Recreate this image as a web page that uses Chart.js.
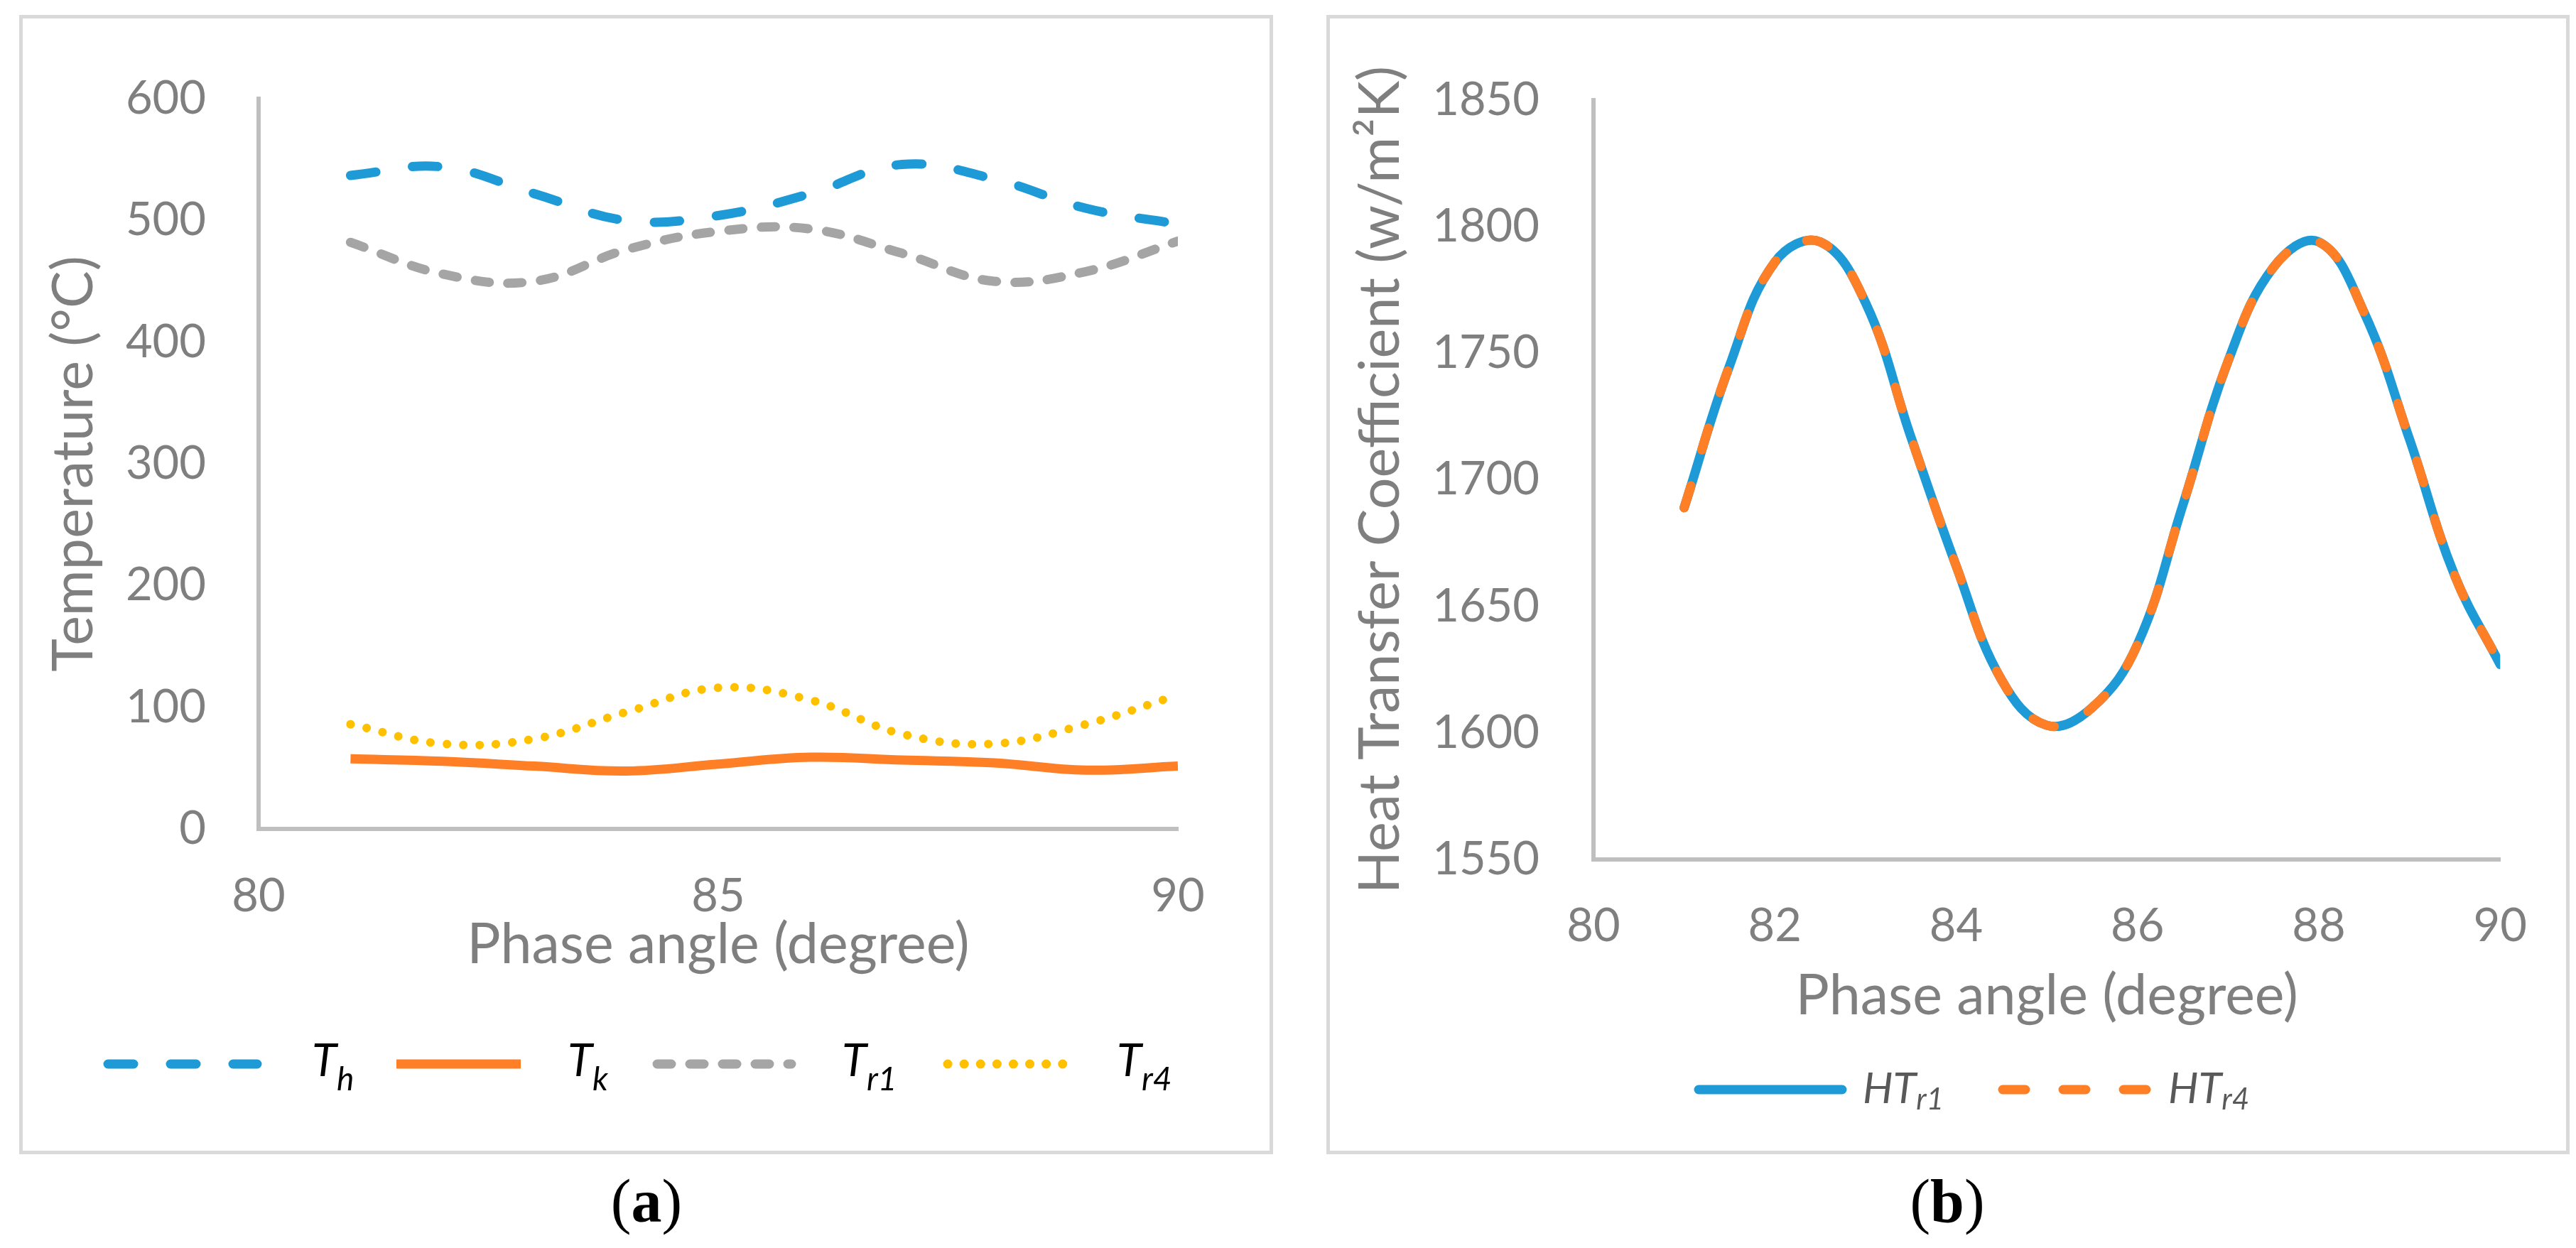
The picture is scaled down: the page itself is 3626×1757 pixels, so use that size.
<!DOCTYPE html>
<html><head><meta charset="utf-8">
<script src="https://cdn.jsdelivr.net/npm/chart.js@4.4.1/dist/chart.umd.min.js"></script>
<style>
html,body{margin:0;padding:0;background:#fff;}
body{width:3626px;height:1757px;position:relative;overflow:hidden;}
.panel{position:absolute;top:21px;height:1604px;border:5px solid #d9d9d9;box-sizing:border-box;background:#fff;}
#pa{left:27px;width:1765px;}
#pb{left:1867px;width:1750px;}
.panel canvas{display:block;}
.cap{position:absolute;top:1646px;width:400px;height:90px;line-height:90px;text-align:center;font-family:"Liberation Serif","DejaVu Serif",serif;font-size:86px;color:#000;}
</style></head>
<body>
<div class="panel" id="pa"><canvas id="ca" width="1755" height="1594"></canvas></div>
<div class="panel" id="pb"><canvas id="cb" width="1740" height="1594"></canvas></div>
<div class="cap" style="left:710px">(<b>a</b>)</div>
<div class="cap" style="left:2541px">(<b>b</b>)</div>
<script>
// ---- data: panel (a) ----
const phaseA = [81, 82, 83, 84, 85, 86, 87, 88, 89, 90];
const Th  = [537, 544, 522, 500, 504, 522, 546, 534, 510, 497];
const Tk  = [57.6, 55.6, 51.6, 47.6, 53.3, 58.9, 56.6, 54.3, 48.3, 51.6];
const Tr1 = [482, 456, 450, 476, 491, 493, 473, 450, 458, 483];
const Tr4 = [86, 70, 74, 96, 116, 106, 78, 70, 86, 110];
const seriesA = ['Th', 'Tk', 'Tr1', 'Tr4'];
const legendMainA = ['T', 'T', 'T', 'T'];
const legendSubA = ['h', 'k', 'r1', 'r4'];
const yTicksA = [0, 100, 200, 300, 400, 500, 600];
const xTicksA = [80, 85, 90];

// ---- data: panel (b) ----
const phaseB = [81, 81.5, 82, 82.5, 83, 83.5, 84, 84.5, 85, 85.5, 86, 86.5, 87, 87.5, 88, 88.5, 89, 89.5, 90];
const HTr1 = [1689, 1745, 1786, 1794, 1770, 1717, 1666, 1621, 1603, 1610, 1635, 1690, 1747, 1784, 1794, 1766, 1716, 1662, 1627];
const HTr4 = [1689, 1745, 1786, 1794, 1770, 1717, 1666, 1621, 1603, 1610, 1635, 1690, 1747, 1784, 1794, 1766, 1716, 1662, 1627];
const seriesB = ['HTr1', 'HTr4'];
const legendMainB = ['HT', 'HT'];
const legendSubB = ['r1', 'r4'];
const yTicksB = [1550, 1600, 1650, 1700, 1750, 1800, 1850];
const xTicksB = [80, 82, 84, 86, 88, 90];

const FONT = 'Lato';
const AXIS_TXT = '#7f7f7f';
const AXIS_LINE = '#bfbfbf';

function pts(xs, ys) { return xs.map((x, i) => ({x: x, y: ys[i]})); }

const subLegend = {
  id: 'subLegend',
  afterDraw(chart, args, o) {
    const ctx = chart.ctx;
    ctx.save();
    o.items.forEach((it, i) => {
      const ds = chart.data.datasets[i];
      ctx.beginPath();
      ctx.strokeStyle = ds.borderColor;
      ctx.lineWidth = o.lineWidth;
      ctx.lineCap = ds.borderCapStyle || 'butt';
      ctx.setLineDash(ds.borderDash || []);
      ctx.moveTo(it.x0, o.y);
      ctx.lineTo(it.x1, o.y);
      ctx.stroke();
      ctx.setLineDash([]);
      ctx.fillStyle = o.color;
      ctx.textAlign = 'left';
      ctx.textBaseline = 'alphabetic';
      ctx.font = 'italic ' + o.size + 'px ' + FONT;
      ctx.fillText(o.main[i], it.tx, o.baseline);
      const w = ctx.measureText(o.main[i]).width;
      ctx.font = 'italic ' + o.subSize + 'px ' + FONT;
      ctx.fillText(o.sub[i], it.tx + w + o.subGap, o.baseline + o.subDrop);
    });
    ctx.restore();
  }
};

function axisCommon(min, max, ticksArr, pad, titleText, titlePad, fitFn) {
  return {
    type: 'linear', min: min, max: max,
    afterBuildTicks: s => { s.ticks = ticksArr.map(v => ({value: v})); },
    grid: {display: false, drawTicks: false},
    border: {display: true, color: AXIS_LINE, width: 6},
    ticks: {color: AXIS_TXT, font: {family: FONT, size: 65, lineHeight: 1.2}, padding: pad, callback: v => String(v)},
    title: {display: true, text: titleText, color: AXIS_TXT, font: {family: FONT, size: 79, lineHeight: 1}, padding: titlePad},
    afterFit: fitFn
  };
}

// ---- chart (a) ----
new Chart(document.getElementById('ca'), {
  type: 'line',
  data: {
    datasets: [
      {label: seriesA[0], data: pts(phaseA, Th), borderColor: '#1e9bd7', borderWidth: 13, borderDash: [36, 52], borderCapStyle: 'round'},
      {label: seriesA[1], data: pts(phaseA, Tk), borderColor: '#ff7f27', borderWidth: 13, borderCapStyle: 'butt'},
      {label: seriesA[2], data: pts(phaseA, Tr1), borderColor: '#a5a5a5', borderWidth: 13, borderDash: [20, 26], borderCapStyle: 'round'},
      {label: seriesA[3], data: pts(phaseA, Tr4), borderColor: '#ffc000', borderWidth: 12, borderDash: [0.1, 23], borderCapStyle: 'round'}
    ].map(d => Object.assign(d, {pointRadius: 0, tension: 0.4, fill: false, borderJoinStyle: 'round'}))
  },
  options: {
    responsive: false, devicePixelRatio: 1, animation: false,
    layout: {padding: {top: 90, right: 129, bottom: 0, left: 0}},
    plugins: {
      legend: {display: false}, tooltip: {enabled: false},
      subLegend: {
        y: 1472, lineWidth: 13, baseline: 1489, size: 64, subSize: 46, subDrop: 20, subGap: 0, color: '#000',
        main: legendMainA, sub: legendSubA,
        items: [{x0: 120, x1: 330, tx: 407}, {x0: 526, x1: 701, tx: 767}, {x0: 893, x1: 1082, tx: 1153}, {x0: 1302, x1: 1470, tx: 1540}]
      }
    },
    scales: {
      x: axisCommon(80, 90, xTicksA, 56, 'Phase angle (degree)', {top: 0, bottom: 250}, s => { s.height = 453; }),
      y: axisCommon(0, 600, yTicksA, 74, 'Temperature (°C)', {top: 33, bottom: 0}, s => { s.width = 332; })
    }
  },
  plugins: [subLegend]
});

// ---- chart (b) ----
new Chart(document.getElementById('cb'), {
  type: 'line',
  data: {
    datasets: [
      {label: seriesB[0], data: pts(phaseB, HTr1), borderColor: '#1e9bd7', borderWidth: 13, borderCapStyle: 'round', order: 2},
      {label: seriesB[1], data: pts(phaseB, HTr4), borderColor: '#ff7f27', borderWidth: 13, borderDash: [32, 53], borderCapStyle: 'round', order: 1}
    ].map(d => Object.assign(d, {pointRadius: 0, tension: 0.4, fill: false, borderJoinStyle: 'round'}))
  },
  options: {
    responsive: false, devicePixelRatio: 1, animation: false,
    layout: {padding: {top: 77, right: 87, bottom: 0, left: 0}},
    plugins: {
      legend: {display: false}, tooltip: {enabled: false},
      subLegend: {
        y: 1508, lineWidth: 13, baseline: 1527, size: 60, subSize: 42, subDrop: 9, subGap: 0, color: '#595959',
        main: legendMainB, sub: legendSubB,
        items: [{x0: 519, x1: 721, tx: 750}, {x0: 947, x1: 1149, tx: 1180}]
      }
    },
    scales: {
      x: axisCommon(80, 90, xTicksB, 55, 'Phase angle (degree)', {top: 0, bottom: 178}, s => { s.height = 410; }),
      y: axisCommon(1550, 1850, yTicksB, 76, 'Heat Transfer Coefficient (w/m²K)', {top: 32, bottom: 0}, s => { s.width = 371; })
    }
  },
  plugins: [subLegend]
});
</script>
</body></html>
